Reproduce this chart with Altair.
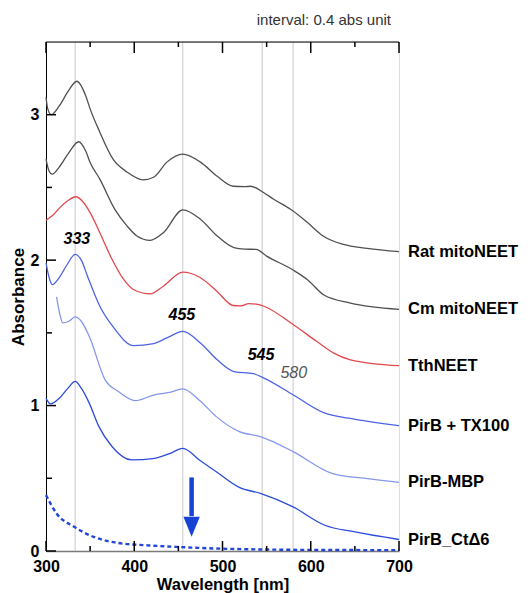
import altair as alt
import pandas as pd

# ---------------- data ----------------
wl_rat = [300, 302, 306, 315, 325, 335, 345, 350, 361, 376, 392, 410, 422, 437, 455, 475, 494, 512, 525, 532, 546, 558, 580, 596, 614, 637, 664, 700]
abs_rat = [3.12, 3.04, 3.00, 3.06, 3.16, 3.23, 3.13, 3.04, 2.88, 2.694, 2.605, 2.552, 2.57, 2.674, 2.729, 2.674, 2.577, 2.508, 2.505, 2.508, 2.467, 2.419, 2.338, 2.26, 2.166, 2.108, 2.081, 2.058]

wl_cm = [300, 303, 307, 315, 326, 337, 345, 350, 361, 378, 392, 403, 418, 433, 455, 475, 494, 513, 525, 538, 550, 580, 596, 615, 645, 700]
abs_cm = [2.694, 2.62, 2.591, 2.64, 2.74, 2.814, 2.75, 2.672, 2.557, 2.349, 2.234, 2.166, 2.136, 2.189, 2.345, 2.281, 2.166, 2.086, 2.076, 2.074, 2.028, 1.932, 1.867, 1.76, 1.705, 1.662]

wl_tth = [300, 308, 316, 325, 334, 342, 350, 361, 373, 388, 399, 418, 433, 455, 475, 493, 512, 520, 530, 541, 547, 580, 607, 626, 645, 700]
abs_tth = [2.274, 2.31, 2.363, 2.41, 2.436, 2.40, 2.327, 2.189, 2.028, 1.867, 1.798, 1.768, 1.821, 1.917, 1.879, 1.79, 1.688, 1.685, 1.701, 1.694, 1.683, 1.557, 1.44, 1.361, 1.315, 1.274]

wl_tx = [300, 304, 307, 315, 324, 333, 340, 347, 361, 377, 399, 422, 437, 455, 475, 494, 513, 535, 547, 580, 616, 643, 700]
abs_tx = [1.982, 1.87, 1.832, 1.88, 1.97, 2.039, 2.0, 1.89, 1.683, 1.534, 1.412, 1.426, 1.465, 1.51, 1.43, 1.315, 1.234, 1.219, 1.189, 1.074, 0.948, 0.913, 0.862]

wl_mbp = [312, 316, 319, 326, 333, 340, 349, 367, 382, 401, 423, 440, 455, 475, 493, 519, 543, 580, 624, 662, 700]
abs_mbp = [1.748, 1.62, 1.568, 1.58, 1.61, 1.58, 1.476, 1.177, 1.097, 1.034, 1.074, 1.09, 1.115, 1.03, 0.924, 0.821, 0.786, 0.683, 0.534, 0.499, 0.472]

wl_ct = [300, 301, 305, 315, 325, 333, 340, 349, 360, 375, 397, 423, 440, 455, 475, 493, 519, 543, 580, 616, 650, 700]
abs_ct = [1.05, 1.039, 1.012, 1.05, 1.12, 1.166, 1.12, 1.017, 0.855, 0.717, 0.626, 0.637, 0.67, 0.706, 0.62, 0.545, 0.437, 0.396, 0.303, 0.177, 0.131, 0.079]

wl_dash = [300, 312, 332, 354, 382, 415, 449, 493, 550, 620, 700]
abs_dash = [0.384, 0.258, 0.166, 0.097, 0.055, 0.039, 0.028, 0.017, 0.01, 0.007, 0.006]

series_names = ["Rat mitoNEET", "Cm mitoNEET", "TthNEET", "PirB + TX100", "PirB-MBP", "PirB_CtΔ6"]
series_colors = ["#505050", "#505050", "#e0484e", "#4d63e3", "#8597ec", "#2d4bd9"]
series_data = [(wl_rat, abs_rat), (wl_cm, abs_cm), (wl_tth, abs_tth),
               (wl_tx, abs_tx), (wl_mbp, abs_mbp), (wl_ct, abs_ct)]

peak_wl = [333, 455, 545, 580]
peak_text = ["333", "455", "545", "580"]
peak_text_x = [335, 454, 543.6, 580.8]
peak_text_y = [2.143, 1.626, 1.35, 1.222]

x_major = [300, 400, 500, 600, 700]
x_minor = [350, 450, 550, 650]
y_major = [0, 1, 2, 3]
y_minor = [0.5, 1.5, 2.5]

arrow_wl = [465]
arrow_top = [0.506]
arrow_head_start = [0.24]
arrow_head_mid = [0.166]

# ---------------- tables ----------------
rows = []
for name, (xs, ys) in zip(series_names, series_data):
    for i, (x, y) in enumerate(zip(xs, ys)):
        rows.append({"series": name, "wl": x, "abs": y, "i": i})
df_lines = pd.DataFrame(rows)
df_dash = pd.DataFrame({"wl": wl_dash, "abs": abs_dash})
df_labels = pd.DataFrame({"series": series_names, "wl": [700] * 6,
                          "abs": [ys[-1] for _, ys in series_data]})
df_grid = pd.DataFrame({"wl": peak_wl})
df_peaks = pd.DataFrame({"wl": peak_text_x, "abs": peak_text_y, "t": peak_text})
df_xmaj = pd.DataFrame({"wl": x_major})
df_xmin = pd.DataFrame({"wl": x_minor})
df_ymaj = pd.DataFrame({"abs": y_major})
df_ymin = pd.DataFrame({"abs": y_minor})
df_arrow = pd.DataFrame({"wl": arrow_wl, "abs": arrow_top, "abs2": arrow_head_start})
df_head = pd.DataFrame({"wl": arrow_wl, "abs": arrow_head_mid})

W, H = 353, 509
FONT = "Liberation Sans"

xscale = alt.Scale(domain=[300, 700], nice=False, zero=False)
yscale = alt.Scale(domain=[0, 3.5], nice=False)
xaxis = alt.Axis(values=x_major, ticks=False, grid=False, domainColor="#7a7a7a", domainWidth=1.6,
                 labelFont=FONT, labelFontSize=16, labelFontWeight="bold", labelColor="#000",
                 labelPadding=7, labelFlush=False, labelOverlap=False,
                 title="Wavelength  [nm]", titleFont=FONT, titleFontSize=16.5,
                 titleFontWeight="bold", titleColor="#000", titlePadding=2)
yaxis = alt.Axis(values=y_major, ticks=False, grid=False, domainColor="#000", domainWidth=1,
                 labelFont=FONT, labelFontSize=16, labelFontWeight="bold", labelColor="#000",
                 labelPadding=7, labelFlush=False, labelOverlap=False,
                 title="Absorbance", titleFont=FONT, titleFontSize=17,
                 titleFontWeight="bold", titleColor="#000", titlePadding=3)
X = alt.X("wl:Q", scale=xscale, axis=xaxis)
Y = alt.Y("abs:Q", scale=yscale, axis=yaxis)

grid = alt.Chart(df_grid).mark_rule(color="#c8c8c8", strokeWidth=1).encode(x=X)

lines = alt.Chart(df_lines).mark_line(strokeWidth=1.3, interpolate="monotone").encode(
    x=X, y=Y,
    color=alt.Color("series:N", scale=alt.Scale(domain=series_names, range=series_colors), legend=None),
    order="i:Q")

dash = alt.Chart(df_dash).mark_line(strokeWidth=2.4, strokeDash=[4, 3], color="#2346d8",
                                    interpolate="monotone").encode(x=X, y=Y)

labels = alt.Chart(df_labels).mark_text(align="left", baseline="middle", dx=9, font=FONT,
                                        fontSize=16.5, fontWeight="bold", color="#000").encode(
    x=X, y=Y, text="series:N")

peaks_bold = alt.Chart(df_peaks.iloc[:3]).mark_text(align="center", baseline="middle", font=FONT,
                                                     fontSize=16, fontWeight="bold", fontStyle="italic",
                                                     color="#000").encode(x=X, y=Y, text="t:N")
peaks_light = alt.Chart(df_peaks.iloc[3:]).mark_text(align="center", baseline="middle", font=FONT,
                                                      fontSize=16, fontStyle="italic",
                                                      color="#555").encode(x=X, y=Y, text="t:N")

tk = dict(color="#000", strokeWidth=1.5)
xb_maj = alt.Chart(df_xmaj).mark_rule(**tk).encode(x=X, y=alt.value(H), y2=alt.value(H - 10))
xb_min = alt.Chart(df_xmin).mark_rule(**tk).encode(x=X, y=alt.value(H), y2=alt.value(H - 5))
xt_maj = alt.Chart(df_xmaj).mark_rule(**tk).encode(x=X, y=alt.value(0), y2=alt.value(11))
xt_min = alt.Chart(df_xmin).mark_rule(**tk).encode(x=X, y=alt.value(0), y2=alt.value(5))
yl_maj = alt.Chart(df_ymaj).mark_rule(**tk).encode(y=Y, x=alt.value(0), x2=alt.value(10))
yl_min = alt.Chart(df_ymin).mark_rule(**tk).encode(y=Y, x=alt.value(0), x2=alt.value(6))

top_line = alt.Chart(df_xmaj.iloc[:1]).mark_rule(color="#000", strokeWidth=1).encode(
    y=alt.value(0), x=alt.value(0), x2=alt.value(W))

arrow = alt.Chart(df_arrow).mark_rule(color="#1743d4", strokeWidth=4.5).encode(
    x=X, y=Y, y2="abs2:Q")
head = alt.Chart(df_head).mark_point(shape="M-0.82,-1L0.82,-1L0,1Z", size=400, filled=True,
                                     opacity=1, color="#1743d4", strokeWidth=0).encode(x=X, y=Y)

note = alt.Chart(df_xmaj.iloc[:1]).mark_text(align="right", baseline="alphabetic", font=FONT,
                                             fontSize=15, color="#333",
                                             text="interval: 0.4 abs unit").encode(
    x=alt.value(345), y=alt.value(-17))

chart = alt.layer(
    grid, lines, dash, arrow, head, labels, peaks_bold, peaks_light,
    xb_maj, xb_min, xt_maj, xt_min, yl_maj, yl_min, top_line, note
).properties(
    width=W, height=H,
    autosize=alt.AutoSizeParams(type="none"),
    padding={"left": 38, "top": 34, "right": 124, "bottom": 42},
).configure_view(stroke="#7a7a7a", strokeWidth=1.6).configure(font=FONT)

chart.save("out.html", embed_options={"renderer": "svg", "actions": False})
